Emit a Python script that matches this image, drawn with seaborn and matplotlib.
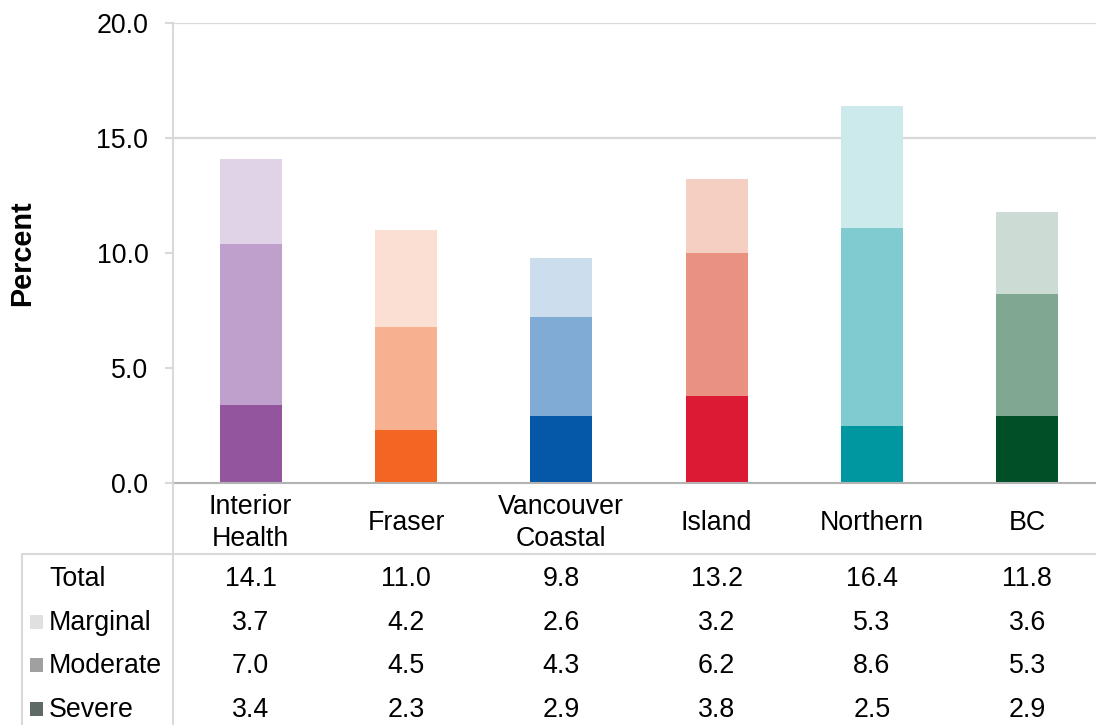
import matplotlib
matplotlib.use("Agg")
import matplotlib.pyplot as plt
import matplotlib.transforms as mtransforms
from matplotlib.lines import Line2D
from matplotlib.patches import Rectangle
import seaborn as sns
import pandas as pd

# ---------------- data ----------------
regions = ["Interior Health", "Fraser", "Vancouver Coastal", "Island", "Northern", "BC"]
region_labels = ["Interior\nHealth", "Fraser", "Vancouver\nCoastal", "Island", "Northern", "BC"]
total = [14.1, 11.0, 9.8, 13.2, 16.4, 11.8]
marginal = [3.7, 4.2, 2.6, 3.2, 5.3, 3.6]
moderate = [7.0, 4.5, 4.3, 6.2, 8.6, 5.3]
severe = [3.4, 2.3, 2.9, 3.8, 2.5, 2.9]
row_names = ["Total", "Marginal", "Moderate", "Severe"]
y_ticks = [0, 5, 10, 15, 20]

# ---------------- styles ----------------
severe_colors = ["#93559e", "#f26522", "#0458a7", "#dc1a34", "#0097a0", "#004f27"]
moderate_colors = ["#bf9fcb", "#f7b190", "#80abd4", "#ea9282", "#80cbcf", "#80a792"]
marginal_colors = ["#e0d3e8", "#fbdfd3", "#ccdded", "#f4cfc2", "#cce9eb", "#ccdcd4"]
legend_colors = {"Marginal": "#e0e0e0", "Moderate": "#a0a0a0", "Severe": "#5f6a66"}
GRID = "#d9d9d9"
FS = 19.3

sns.set_theme(style="white")
plt.rcParams["font.family"] = ["Liberation Sans", "DejaVu Sans"]

W, H = 1096, 725
fig = plt.figure(figsize=(W / 100, H / 100), dpi=100)
ax = fig.add_axes([173 / W, 242 / H, 932 / W, 460 / H])

# stacked heights (cumulative from the component series)
top_marg = [s + m + g for s, m, g in zip(severe, moderate, marginal)]
top_mod = [s + m for s, m in zip(severe, moderate)]

for tops, cols in [(top_marg, marginal_colors), (top_mod, moderate_colors), (severe, severe_colors)]:
    df = pd.DataFrame({"region": regions, "value": tops})
    sns.barplot(data=df, x="region", y="value", hue="region", order=regions,
                hue_order=regions, palette=cols, width=0.4, saturation=1,
                linewidth=0, errorbar=None, legend=False, ax=ax, zorder=2)

ax.set_xlim(-0.5, 5.5)
ax.set_ylim(0, 20)
ax.set_yticks(y_ticks)
ax.set_yticklabels([f"{v:.1f}" for v in y_ticks])
for v in [15, 20]:
    ax.axhline(v, color=GRID, lw=1.6, zorder=0.5)

ax.set_xticks(range(len(regions)))
ax.set_xticklabels(region_labels, linespacing=1.3)
for lbl in ax.get_xticklabels():
    lbl.set_verticalalignment("center")
ax.tick_params(axis="x", length=0, pad=28.5, labelsize=FS, labelcolor="black")
ax.tick_params(axis="y", length=5.8, width=1.5, color=GRID, pad=12,
               labelsize=FS, labelcolor="black", left=True)
ax.set_xlabel("")
ax.set_ylabel("Percent", fontsize=20.8, fontweight="bold", color="black")
ax.yaxis.set_label_coords(-0.147, 0.5)

for side in ["top", "right"]:
    ax.spines[side].set_visible(False)
ax.spines["left"].set_color(GRID)
ax.spines["left"].set_linewidth(1.5)
ax.spines["bottom"].set_color("#b3b3b3")
ax.spines["bottom"].set_linewidth(1.5)

# ---------------- table below ----------------
line_y = (H - 553.5) / H
fig.add_artist(Line2D([173 / W, 173 / W], [0, 242 / H], color=GRID, lw=1.5))
fig.add_artist(Line2D([21.5 / W, 1], [line_y, line_y], color=GRID, lw=1.5))
fig.add_artist(Line2D([21.5 / W, 21.5 / W], [0, line_y], color=GRID, lw=1.5))

trans = mtransforms.blended_transform_factory(ax.transData, fig.transFigure)
row_values = [total, marginal, moderate, severe]
baselines = [586, 630, 673, 717]
for name, vals, b in zip(row_names, row_values, baselines):
    yb = (H - b) / H
    fig.text(49 / W, yb, name, fontsize=FS, ha="left", va="baseline", color="black")
    if name in legend_colors:
        fig.add_artist(Rectangle((30 / W, (H - b + 1) / H), 13 / W, 14 / H,
                                 transform=fig.transFigure, color=legend_colors[name], lw=0))
    for i, v in enumerate(vals):
        ax.text(i, yb, f"{v:.1f}", transform=trans, fontsize=FS, ha="center",
                va="baseline", color="black")

fig.savefig("out.png", dpi=100)
